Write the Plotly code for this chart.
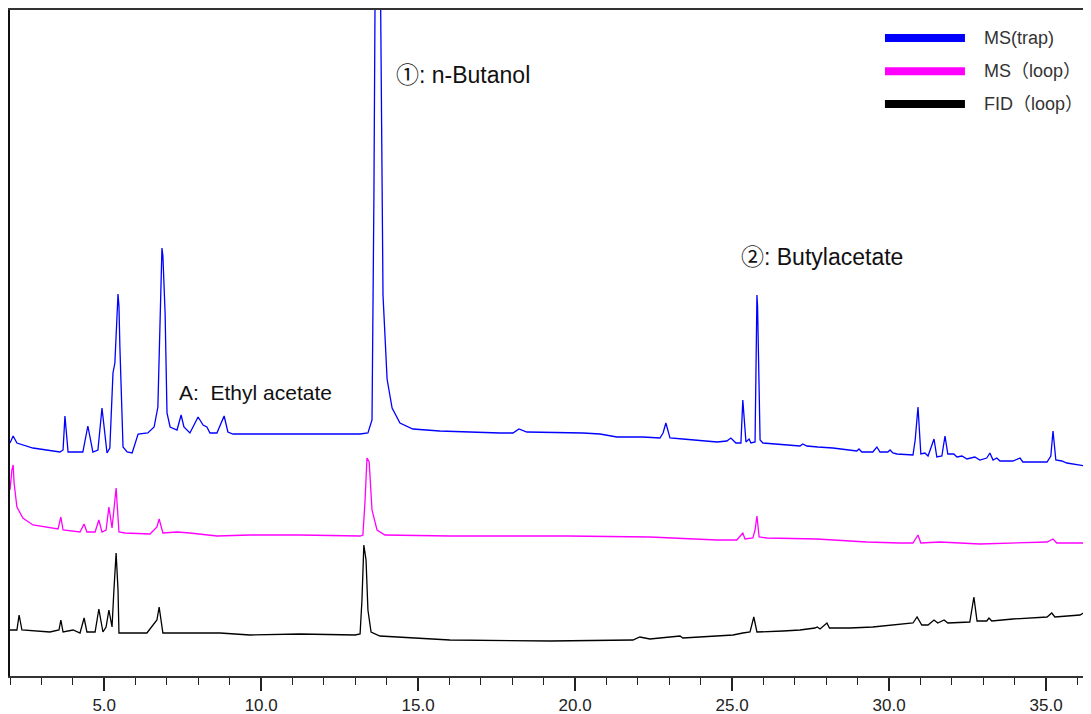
import plotly.graph_objects as go

# ---------------- data (retention time in min, detector signal in arbitrary units) ----------------
series_names = ["MS(trap)", "MS（loop）", "FID（loop）"]
series_colors = ["#0000FF", "#FF00FF", "#000000"]

ms_trap_time = [2.00, 2.10, 2.22, 2.73, 3.59, 3.69, 3.75, 3.85, 4.32, 4.48, 4.64, 4.80, 4.93, 5.09,
                5.18, 5.28, 5.34, 5.41, 5.44, 5.47, 5.50, 5.60, 5.73, 5.89, 5.98, 6.08, 6.39, 6.59,
                6.71, 6.78, 6.82, 6.84, 6.87, 6.94, 7.00, 7.10, 7.32, 7.45, 7.54, 7.73, 7.99, 8.15,
                8.27, 8.37, 8.59, 8.82, 8.94, 9.10, 9.64, 11.50, 13.15, 13.40, 13.53, 13.59, 13.70,
                13.88, 14.01, 14.17, 14.42, 14.83, 15.69, 17.61, 18.02, 18.21, 18.46, 20.25, 20.79,
                21.33, 22.16, 22.70, 22.80, 22.89, 23.02, 23.43, 24.52, 24.83, 24.96, 25.12, 25.28,
                25.34, 25.44, 25.54, 25.60, 25.73, 25.77, 25.79, 25.81, 25.89, 25.98, 26.62, 27.16,
                27.25, 27.38, 27.73, 28.21, 28.97, 29.04, 29.13, 29.48, 29.61, 29.71, 29.96, 30.03,
                30.12, 30.25, 30.76, 30.83, 30.92, 31.01, 31.14, 31.24, 31.43, 31.52, 31.68, 31.78,
                31.87, 32.06, 32.16, 32.32, 32.48, 32.73, 32.89, 33.11, 33.21, 33.31, 33.43, 33.53,
                33.94, 34.17, 34.26, 35.03, 35.15, 35.22, 35.31, 35.50, 35.66, 36.08, 36.24, 36.33,
                36.43]
ms_trap_signal = [233, 240, 233, 228, 224, 226, 260, 224, 224, 250, 224, 226, 268, 223,
                  228, 303, 313, 370, 382, 370, 329, 229, 224, 223, 233, 242, 243, 249,
                  269, 363, 420, 428, 420, 363, 263, 249, 246, 261, 249, 243, 259, 251,
                  249, 243, 243, 260, 244, 242, 242, 242, 242, 243, 256, 476, 1076,
                  381, 297, 268, 253, 247, 245, 243, 243, 247, 244, 243, 242,
                  239, 239, 238, 243, 253, 238, 237, 234, 235, 238, 233, 233,
                  276, 234, 237, 233, 234, 370, 381, 370, 236, 233, 231, 230,
                  232, 230, 229, 228, 225, 227, 224, 224, 229, 224, 224, 226,
                  223, 222, 221, 236, 269, 222, 223, 220, 237, 219, 220, 240,
                  222, 222, 219, 220, 217, 219, 216, 218, 223, 216, 218, 215,
                  215, 218, 214, 214, 220, 245, 216, 215, 213, 211, 210, 214,
                  211]

ms_loop_time = [2.00, 2.06, 2.10, 2.13, 2.22, 2.41, 2.73, 3.27, 3.53, 3.62, 3.69, 4.23, 4.36, 4.45,
                4.71, 4.83, 4.93, 5.06, 5.15, 5.25, 5.38, 5.47, 5.66, 6.46, 6.68, 6.75, 6.87, 7.32,
                7.73, 8.59, 9.64, 11.24, 13.15, 13.24, 13.31, 13.37, 13.44, 13.53, 13.69, 13.94,
                16.01, 18.15, 19.74, 22.38, 24.52, 25.15, 25.34, 25.41, 25.66, 25.73, 25.79, 25.86,
                26.11, 27.70, 29.29, 30.34, 30.76, 30.92, 31.01, 31.62, 32.89, 35.03, 35.22, 35.34,
                36.43]
ms_loop_signal = [186, 206, 211, 193, 169, 158, 151, 148, 147, 159, 146, 144, 152, 144,
                  144, 156, 144, 146, 169, 148, 188, 144, 143, 142, 149, 157, 143, 144,
                  143, 140, 141, 141, 140, 141, 176, 218, 214, 166, 146, 141,
                  140, 140, 140, 139, 136, 136, 143, 137, 138, 146, 160, 139,
                  138, 137, 134, 133, 133, 141, 133, 134, 132, 134, 137, 133,
                  133]

fid_loop_time = [2.00, 2.22, 2.29, 2.38, 3.27, 3.56, 3.62, 3.69, 4.01, 4.23, 4.36, 4.45, 4.71, 4.83,
                 4.96, 5.06, 5.15, 5.25, 5.31, 5.38, 5.44, 5.47, 6.36, 6.68, 6.75, 6.81, 6.87, 7.32,
                 7.73, 8.69, 9.64, 11.24, 12.99, 13.15, 13.21, 13.27, 13.34, 13.40, 13.50, 13.78,
                 16.01, 19.20, 21.84, 22.06, 22.38, 23.34, 23.43, 25.03, 25.34, 25.57, 25.69, 25.79,
                 26.62, 27.16, 27.64, 27.71, 27.80, 28.02, 28.10, 28.75, 29.48, 30.12, 30.76, 30.89,
                 31.04, 31.24, 31.43, 31.55, 31.75, 31.87, 32.57, 32.70, 32.80, 33.11, 33.18, 33.27,
                 33.94, 35.03, 35.18, 35.28, 36.08, 36.30, 36.43]
fid_loop_signal = [46, 46, 61, 46, 44, 46, 56, 44, 46, 43, 58, 44, 44, 67,
                   44, 49, 66, 49, 86, 123, 86, 43, 43, 56, 69, 56, 43, 43,
                   43, 43, 41, 42, 41, 42, 76, 131, 116, 66, 44, 40,
                   36, 35, 36, 39, 37, 40, 38, 41, 43, 44, 59, 44,
                   45, 46, 48, 49, 47, 53, 48, 48, 49, 51, 53, 59,
                   51, 51, 56, 53, 56, 53, 54, 79, 55, 55, 58, 55,
                   57, 59, 63, 59, 61, 65, 63]

peak_labels = ["①: n-Butanol", "②: Butylacetate", "A:  Ethyl acetate"]
peak_label_time = [14.22, 25.22, 7.33]
peak_label_signal = [601, 419, 284]
peak_label_size = [23, 23, 21]

x_tick_vals = [5, 10, 15, 20, 25, 30, 35]
x_tick_text = ["5.0", "10.0", "15.0", "20.0", "25.0", "30.0", "35.0"]
x_range = [2.0, 36.43]
y_range = [0, 666]

# ---------------- figure ----------------
fig = go.Figure()
all_t = [ms_trap_time, ms_loop_time, fid_loop_time]
all_s = [ms_trap_signal, ms_loop_signal, fid_loop_signal]
for name, col, t, s in zip(series_names, series_colors, all_t, all_s):
    fig.add_trace(go.Scatter(x=t, y=s, mode="lines", name=name,
                             line=dict(color=col, width=1.3), showlegend=False))

# custom legend (long thick swatches as in the original)
legend_rows_y = [0.958, 0.908, 0.859]
for name, col, yy in zip(series_names, series_colors, legend_rows_y):
    fig.add_shape(type="line", xref="paper", yref="paper", x0=0.8094, x1=0.8834, y0=yy, y1=yy,
                  line=dict(color=col, width=8))
    fig.add_annotation(xref="paper", yref="paper", x=0.8995, y=yy, text=name, showarrow=False,
                       xanchor="left", yanchor="middle",
                       font=dict(family="Liberation Sans, Noto Sans CJK JP", size=18, color="#333333"))

for txt, tx, sy, fs in zip(peak_labels, peak_label_time, peak_label_signal, peak_label_size):
    fig.add_annotation(x=tx, y=sy, text=txt, showarrow=False, xanchor="left", yanchor="middle",
                       font=dict(family="Liberation Sans, Noto Sans CJK JP", size=fs, color="#111111"))

# the page body has an 8px default margin, so the figure is 8px smaller and margins compensate
fig.update_layout(
    width=1083, height=706,
    margin=dict(l=2, r=0, t=2, b=38),
    paper_bgcolor="white", plot_bgcolor="white",
    showlegend=False,
)
fig.update_xaxes(range=x_range, tickvals=x_tick_vals, ticktext=x_tick_text,
                 showgrid=False, zeroline=False,
                 showline=True, linecolor="#333333", linewidth=2, mirror=True,
                 ticks="outside", ticklen=13, tickwidth=1.5, tickcolor="#222222",
                 minor=dict(dtick=1, tick0=0, ticks="outside", ticklen=7, tickwidth=1, tickcolor="#222222"),
                 tickfont=dict(family="Liberation Sans Narrow, Liberation Sans", size=17, color="#222222"))
fig.update_yaxes(range=y_range, showgrid=False, zeroline=False, showticklabels=False, ticks="",
                 showline=True, linecolor="#111111", linewidth=1.5)

fig.write_html("out.html")
